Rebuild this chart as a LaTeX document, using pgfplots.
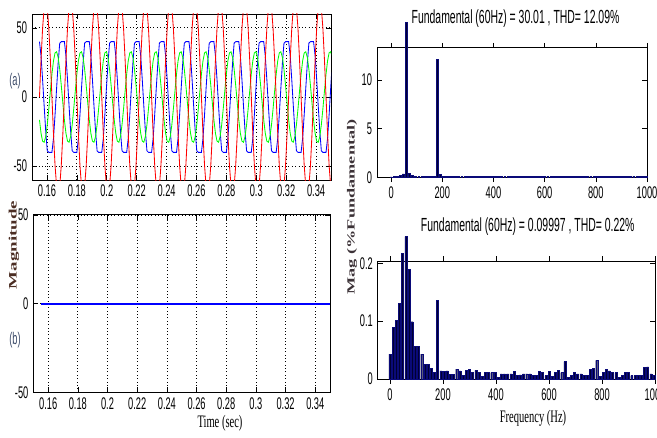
\documentclass[border=0pt]{standalone}
\usepackage{fontspec}
\setmainfont{Liberation Serif}
\newfontfamily\sansn{Liberation Sans}[FakeStretch=0.55]
\newfontfamily\serifn{Liberation Serif}[FakeStretch=0.6]
\usepackage{pgfplots}
\usepackage{pgfplotstable}
\pgfplotsset{compat=1.18}

\definecolor{labbrown}{RGB}{75,45,35}
\definecolor{labgrey}{RGB}{60,75,105}
\definecolor{labdark}{RGB}{60,50,55}
\definecolor{barfill}{RGB}{0,0,50}
\definecolor{baredge}{RGB}{10,10,120}

% three phase waveforms: t, red, blue, green
\pgfplotstableread{
t R B G
0.15500 0 40 -16.5
0.15604 26.8 29.8 -26.2
0.15708 49.5 12.7 -31.9
0.15813 64.7 -6.4 -32.7
0.15917 70 -24.5 -28.6
0.16021 64.7 -38.9 -20.1
0.16125 49.5 -40 -8.5
0.16229 26.8 -40 4.3
0.16333 0 -40 16.5
0.16438 -26.8 -29.8 26.2
0.16542 -49.5 -12.7 31.9
0.16646 -64.7 6.4 32.7
0.16750 -70 24.5 28.6
0.16854 -64.7 38.9 20.1
0.16958 -49.5 40 8.5
0.17063 -26.8 40 -4.3
0.17167 0 40 -16.5
0.17271 26.8 29.8 -26.2
0.17375 49.5 12.7 -31.9
0.17479 64.7 -6.4 -32.7
0.17583 70 -24.5 -28.6
0.17688 64.7 -38.9 -20.1
0.17792 49.5 -40 -8.5
0.17896 26.8 -40 4.3
0.18000 0 -40 16.5
0.18104 -26.8 -29.8 26.2
0.18208 -49.5 -12.7 31.9
0.18313 -64.7 6.4 32.7
0.18417 -70 24.5 28.6
0.18521 -64.7 38.9 20.1
0.18625 -49.5 40 8.5
0.18729 -26.8 40 -4.3
0.18833 0 40 -16.5
0.18938 26.8 29.8 -26.2
0.19042 49.5 12.7 -31.9
0.19146 64.7 -6.4 -32.7
0.19250 70 -24.5 -28.6
0.19354 64.7 -38.9 -20.1
0.19458 49.5 -40 -8.5
0.19563 26.8 -40 4.3
0.19667 0 -40 16.5
0.19771 -26.8 -29.8 26.2
0.19875 -49.5 -12.7 31.9
0.19979 -64.7 6.4 32.7
0.20083 -70 24.5 28.6
0.20188 -64.7 38.9 20.1
0.20292 -49.5 40 8.5
0.20396 -26.8 40 -4.3
0.20500 0 40 -16.5
0.20604 26.8 29.8 -26.2
0.20708 49.5 12.7 -31.9
0.20813 64.7 -6.4 -32.7
0.20917 70 -24.5 -28.6
0.21021 64.7 -38.9 -20.1
0.21125 49.5 -40 -8.5
0.21229 26.8 -40 4.3
0.21333 0 -40 16.5
0.21438 -26.8 -29.8 26.2
0.21542 -49.5 -12.7 31.9
0.21646 -64.7 6.4 32.7
0.21750 -70 24.5 28.6
0.21854 -64.7 38.9 20.1
0.21958 -49.5 40 8.5
0.22063 -26.8 40 -4.3
0.22167 0 40 -16.5
0.22271 26.8 29.8 -26.2
0.22375 49.5 12.7 -31.9
0.22479 64.7 -6.4 -32.7
0.22583 70 -24.5 -28.6
0.22688 64.7 -38.9 -20.1
0.22792 49.5 -40 -8.5
0.22896 26.8 -40 4.3
0.23000 0 -40 16.5
0.23104 -26.8 -29.8 26.2
0.23208 -49.5 -12.7 31.9
0.23313 -64.7 6.4 32.7
0.23417 -70 24.5 28.6
0.23521 -64.7 38.9 20.1
0.23625 -49.5 40 8.5
0.23729 -26.8 40 -4.3
0.23833 0 40 -16.5
0.23938 26.8 29.8 -26.2
0.24042 49.5 12.7 -31.9
0.24146 64.7 -6.4 -32.7
0.24250 70 -24.5 -28.6
0.24354 64.7 -38.9 -20.1
0.24458 49.5 -40 -8.5
0.24563 26.8 -40 4.3
0.24667 0 -40 16.5
0.24771 -26.8 -29.8 26.2
0.24875 -49.5 -12.7 31.9
0.24979 -64.7 6.4 32.7
0.25083 -70 24.5 28.6
0.25188 -64.7 38.9 20.1
0.25292 -49.5 40 8.5
0.25396 -26.8 40 -4.3
0.25500 0 40 -16.5
0.25604 26.8 29.8 -26.2
0.25708 49.5 12.7 -31.9
0.25813 64.7 -6.4 -32.7
0.25917 70 -24.5 -28.6
0.26021 64.7 -38.9 -20.1
0.26125 49.5 -40 -8.5
0.26229 26.8 -40 4.3
0.26333 0 -40 16.5
0.26438 -26.8 -29.8 26.2
0.26542 -49.5 -12.7 31.9
0.26646 -64.7 6.4 32.7
0.26750 -70 24.5 28.6
0.26854 -64.7 38.9 20.1
0.26958 -49.5 40 8.5
0.27063 -26.8 40 -4.3
0.27167 0 40 -16.5
0.27271 26.8 29.8 -26.2
0.27375 49.5 12.7 -31.9
0.27479 64.7 -6.4 -32.7
0.27583 70 -24.5 -28.6
0.27688 64.7 -38.9 -20.1
0.27792 49.5 -40 -8.5
0.27896 26.8 -40 4.3
0.28000 0 -40 16.5
0.28104 -26.8 -29.8 26.2
0.28208 -49.5 -12.7 31.9
0.28313 -64.7 6.4 32.7
0.28417 -70 24.5 28.6
0.28521 -64.7 38.9 20.1
0.28625 -49.5 40 8.5
0.28729 -26.8 40 -4.3
0.28833 0 40 -16.5
0.28938 26.8 29.8 -26.2
0.29042 49.5 12.7 -31.9
0.29146 64.7 -6.4 -32.7
0.29250 70 -24.5 -28.6
0.29354 64.7 -38.9 -20.1
0.29458 49.5 -40 -8.5
0.29563 26.8 -40 4.3
0.29667 0 -40 16.5
0.29771 -26.8 -29.8 26.2
0.29875 -49.5 -12.7 31.9
0.29979 -64.7 6.4 32.7
0.30083 -70 24.5 28.6
0.30188 -64.7 38.9 20.1
0.30292 -49.5 40 8.5
0.30396 -26.8 40 -4.3
0.30500 0 40 -16.5
0.30604 26.8 29.8 -26.2
0.30708 49.5 12.7 -31.9
0.30813 64.7 -6.4 -32.7
0.30917 70 -24.5 -28.6
0.31021 64.7 -38.9 -20.1
0.31125 49.5 -40 -8.5
0.31229 26.8 -40 4.3
0.31333 0 -40 16.5
0.31438 -26.8 -29.8 26.2
0.31542 -49.5 -12.7 31.9
0.31646 -64.7 6.4 32.7
0.31750 -70 24.5 28.6
0.31854 -64.7 38.9 20.1
0.31958 -49.5 40 8.5
0.32063 -26.8 40 -4.3
0.32167 0 40 -16.5
0.32271 26.8 29.8 -26.2
0.32375 49.5 12.7 -31.9
0.32479 64.7 -6.4 -32.7
0.32583 70 -24.5 -28.6
0.32688 64.7 -38.9 -20.1
0.32792 49.5 -40 -8.5
0.32896 26.8 -40 4.3
0.33000 0 -40 16.5
0.33104 -26.8 -29.8 26.2
0.33208 -49.5 -12.7 31.9
0.33313 -64.7 6.4 32.7
0.33417 -70 24.5 28.6
0.33521 -64.7 38.9 20.1
0.33625 -49.5 40 8.5
0.33729 -26.8 40 -4.3
0.33833 0 40 -16.5
0.33938 26.8 29.8 -26.2
0.34042 49.5 12.7 -31.9
0.34146 64.7 -6.4 -32.7
0.34250 70 -24.5 -28.6
0.34354 64.7 -38.9 -20.1
0.34458 49.5 -40 -8.5
0.34563 26.8 -40 4.3
0.34667 0 -40 16.5
0.34771 -26.8 -29.8 26.2
0.34875 -49.5 -12.7 31.9
0.34979 -64.7 6.4 32.7
0.35083 -70 24.5 28.6
}\wave

% FFT spectrum, signal (a)
\pgfplotstableread{
f v
0 0.05
12 0.08
24 0.1
36 0.2
48 0.35
60 15.9
72 0.4
84 0.2
96 0.1
108 0.1
120 0.1
132 0.1
144 0.1
156 0.1
168 0.1
180 12.09
192 0.3
204 0.1
216 0.1
228 0.1
240 0.1
252 0.1
264 0.1
276 0.1
288 0.1
300 0.1
312 0.1
324 0.1
336 0.1
348 0.1
360 0.1
372 0.1
384 0.1
396 0.1
408 0.1
420 0.1
432 0.1
444 0.1
456 0.1
468 0.1
480 0.1
492 0.1
504 0.1
516 0.1
528 0.1
540 0.1
552 0.1
564 0.1
576 0.1
588 0.1
600 0.1
612 0.1
624 0.1
636 0.1
648 0.1
660 0.1
672 0.1
684 0.1
696 0.1
708 0.1
720 0.1
732 0.1
744 0.1
756 0.1
768 0.1
780 0.1
792 0.1
804 0.1
816 0.1
828 0.1
840 0.1
852 0.1
864 0.1
876 0.1
888 0.1
900 0.1
912 0.1
924 0.1
936 0.1
948 0.1
960 0.1
972 0.1
984 0.1
996 0.1
}\ffta

% FFT spectrum, signal (b)
\pgfplotstableread{
f v
0 0.043
12 0.089
24 0.101
36 0.131
48 0.217
60 0.246
72 0.189
84 0.099
96 0.056
108 0.056
120 0.043
132 0.025
144 0.025
156 0.018
168 0.011
180 0.136
192 0.014
204 0.013
216 0.014
228 0.008
240 0.008
252 0.017
264 0.014
276 0.006
288 0.015
300 0.017
312 0.012
324 0.015
336 0.011
348 0.004
360 0.011
372 0.011
384 0.011
396 0.011
408 0.003
420 0.009
432 0.009
444 0.009
456 0.009
468 0.013
480 0.006
492 0.007
504 0.009
516 0.009
528 0.009
540 0.006
552 0.006
564 0.013
576 0.012
588 0.006
600 0.013
612 0.004
624 0.011
636 0.015
648 0.011
660 0.030
672 0.003
684 0.006
696 0.011
708 0.009
720 0.009
732 0.006
744 0.006
756 0.017
768 0.018
780 0.032
792 0.005
804 0.011
816 0.017
828 0.014
840 0.011
852 0.011
864 0.003
876 0.006
888 0.011
900 0.011
912 0.006
924 0.006
936 0.006
948 0.006
960 0.020
972 0.021
984 0.009
996 0.006
}\fftb

\pgfplotsset{
  matlab/.style={
    scale only axis,
    anchor=south west,
    axis line style={line width=0.7pt},
    tick align=inside,
    major tick length=1.2mm,
    tick style={black, line width=0.4pt},
    tick label style={font=\sansn\fontsize{12}{13}\selectfont},
    /pgf/number format/assume math mode=true,
  },
  leftgrid/.style={
    grid=major,
    major grid style={dotted, black, line width=0.5pt},
    xmin=0.15, xmax=0.35,
    xtick={0.16,0.18,0.2,0.22,0.24,0.26,0.28,0.3,0.32,0.34},
    xticklabels={0.16,0.18,0.2,0.22,0.24,0.26,0.28,0.3,0.32,0.34},
    ytick={-50,0,50},
    yticklabels={-50,0,50},
  },
  fftaxis/.style={
    clip=false,
    ybar,
    bar width=7.5,
    xmax=1000, ymin=0,
    xtick={0,200,400,600,800,1000},
    xticklabels={0,200,400,600,800,1000},
    title style={anchor=west, font=\sansn\fontsize{13.5}{15}\selectfont},
  },
}

\begin{document}
\begin{tikzpicture}
\useasboundingbox (0,0) rectangle (164.25mm,109.25mm);
\clip (0,0) rectangle (164.25mm,109.25mm);

% (a) waveforms
\begin{axis}[matlab, leftgrid,
  at={(8mm,64.25mm)}, width=74.75mm, height=41.5mm,
  ymin=-60, ymax=60]
\addplot[blue, line width=0.6pt] table[x=t, y=B] {\wave};
\addplot[green, line width=0.6pt] table[x=t, y=G] {\wave};
\addplot[red, line width=0.6pt] table[x=t, y=R] {\wave};
\end{axis}

% (b) flat signal
\begin{axis}[matlab, leftgrid,
  at={(8.33mm,11.18mm)}, width=74.2mm, height=44.33mm,
  ymin=-50, ymax=50,
  ylabel={Magnitude},
  ylabel style={at={(axis description cs:-0.065,0.831)}, anchor=center,
    font=\bfseries\fontsize{13.5}{15}\selectfont, text=labbrown, yscale=0.6},
  xlabel={Time (sec)},
  xlabel style={at={(axis description cs:0.629,-0.172)}, anchor=center,
    font=\serifn\fontsize{12.5}{14}\selectfont}]
\addplot[blue, line width=1.3pt] coordinates {(0.155,0) (0.35,0)};
\end{axis}

% FFT of (a)
\begin{axis}[matlab, fftaxis,
  at={(94.25mm,64.93mm)}, width=67.5mm, height=32.4mm,
  xmin=-55, ymax=13.3,
  ytick={0,5,10}, yticklabels={0,5,10},
  title={Fundamental (60Hz) = 30.01 , THD= 12.09\%},
  title style={at={(axis description cs:0.11,1.162)}},
  ylabel={Mag (\%Fundamental)},
  ylabel style={at={(axis description cs:-0.0926,-0.229)}, anchor=center,
    font=\bfseries\fontsize{13}{15}\selectfont, text=labdark, yscale=0.6}]
\addplot[fill=barfill, draw=baredge, line width=0.3pt] table[x=f, y=v] {\ffta};
\end{axis}

% FFT of (b)
\begin{axis}[matlab, fftaxis,
  at={(94.43mm,14.5mm)}, width=69.33mm, height=29.5mm,
  xmin=-46, ymax=0.204,
  ytick={0,0.1,0.2}, yticklabels={0,0.1,0.2},
  title={Fundamental (60Hz) = 0.09997 , THD= 0.22\%},
  title style={at={(axis description cs:0.138,1.22)}},
  xlabel={Frequency (Hz)},
  xlabel style={at={(axis description cs:0.56,-0.33)}, anchor=center,
    font=\serifn\fontsize{12.5}{14}\selectfont}]
\addplot[fill=barfill, draw=baredge, line width=0.3pt] table[x=f, y=v] {\fftb};
\end{axis}

\node[font=\sansn\fontsize{12}{13}\selectfont, text=labgrey] at (3.75mm,89mm) {(a)};
\node[font=\sansn\fontsize{12}{13}\selectfont, text=labgrey] at (3.75mm,24.25mm) {(b)};
\end{tikzpicture}
\end{document}
